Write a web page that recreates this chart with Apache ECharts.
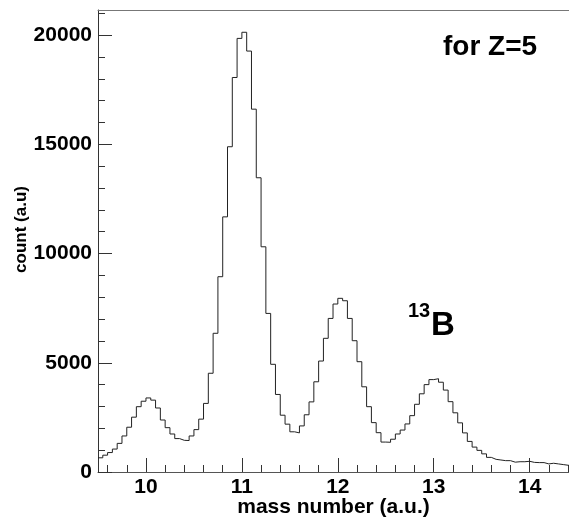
<!DOCTYPE html>
<html>
<head>
<meta charset="utf-8">
<script src="https://cdn.jsdelivr.net/npm/echarts@6/dist/echarts.min.js"></script>
<style>
html,body{margin:0;padding:0;background:#fff;overflow:hidden;}
#chart{width:569px;height:517px;}
</style>
</head>
<body>
<div id="chart"></div>
<script>
// Histogram binning (mass number, a.u.)
var binLow = 9.5;
var binWidth = 0.05;
// Counts per bin, bins starting at 9.50
var counts = [
  650, 770, 890, 1050, 1310, 1650, 2050, 2510, 2990, 3240,
  3390, 3290, 2930, 2380, 2030, 1740, 1530, 1450, 1440, 1650,
  1940, 2420, 3140, 4520, 6350, 8940, 11680, 14890, 18060, 19850,
  20130, 19270, 16610, 13470, 10310, 7260, 4930, 3550, 2600, 2190,
  1840, 1790, 2110, 2620, 3210, 4130, 5080, 6120, 7030, 7690,
  7950, 7840, 7030, 6010, 5050, 3900, 2990, 2260, 1800, 1370,
  1360, 1500, 1740, 1920, 2200, 2580, 3100, 3580, 4000, 4230,
  4270, 4110, 3750, 3220, 2710, 2250, 1790, 1400, 1140, 990,
  830, 670, 580, 550, 520, 520, 450, 470, 470, 490,
  440, 430, 430, 370, 400, 370, 340, 310, 280
];
// Axis ranges and tick values
var xMin = 9.5, xMax = 14.41;
var yMin = 0, yMax = 21150;
var xMajorTicks = [10, 11, 12, 13, 14];
var xMinorTicks = [9.6, 9.8, 10.2, 10.4, 10.6, 10.8, 11.2, 11.4, 11.6, 11.8,
                   12.2, 12.4, 12.6, 12.8, 13.2, 13.4, 13.6, 13.8, 14.2, 14.4];
var yMajorTicks = [0, 5000, 10000, 15000, 20000];
var yMinorTicks = [1000, 2000, 3000, 4000, 6000, 7000, 8000, 9000, 11000, 12000,
                   13000, 14000, 16000, 17000, 18000, 19000, 21000];
var xTitle = 'mass number (a.u.)';
var yTitle = 'count (a.u)';
var labelZ = 'for Z=5';

var edges = counts.map(function (c, i) { return +(binLow + i * binWidth).toFixed(4); });
var stepData = counts.map(function (c, i) { return [edges[i], c]; });
stepData.push([+(binLow + counts.length * binWidth).toFixed(4), counts[counts.length - 1]]);

var FONT = "'Liberation Sans', Arial, Helvetica, sans-serif";
var chart = echarts.init(document.getElementById('chart'), null, {renderer: 'canvas'});
var plain = function (v) { return String(v); };

chart.setOption({
  animation: false,
  backgroundColor: '#ffffff',
  grid: {left: 98, right: 0, top: 10, bottom: 45, containLabel: false, outerBoundsMode: 'none', show: false},
  xAxis: [
    {
      type: 'value', min: xMin, max: xMax, position: 'bottom',
      name: xTitle, nameLocation: 'middle', nameGap: 25, nameMoveOverlap: false,
      nameTextStyle: {fontFamily: FONT, fontWeight: 'bold', fontSize: 21, color: '#000'},
      axisLine: {show: true, lineStyle: {color: '#555', width: 1}},
      axisTick: {show: true, inside: true, length: 14, customValues: xMajorTicks, lineStyle: {color: '#333'}},
      axisLabel: {show: true, customValues: xMajorTicks, margin: 5, formatter: plain,
        fontFamily: FONT, fontWeight: 'bold', fontSize: 21, color: '#000'},
      splitLine: {show: false}
    },
    {
      type: 'value', min: xMin, max: xMax, position: 'bottom',
      axisLine: {show: false},
      axisTick: {show: true, inside: true, length: 7, customValues: xMinorTicks, lineStyle: {color: '#333'}},
      axisLabel: {show: false},
      splitLine: {show: false}
    },
    {
      type: 'value', min: xMin, max: xMax, position: 'top',
      axisLine: {show: true, lineStyle: {color: '#777', width: 1}},
      axisTick: {show: false}, axisLabel: {show: false}, splitLine: {show: false}
    }
  ],
  yAxis: [
    {
      type: 'value', min: yMin, max: yMax, position: 'left',
      axisLine: {show: true, lineStyle: {color: '#333', width: 1}},
      axisTick: {show: true, inside: true, length: 14, customValues: yMajorTicks, lineStyle: {color: '#333'}},
      axisLabel: {show: true, customValues: yMajorTicks, margin: 6, formatter: plain,
        fontFamily: FONT, fontWeight: 'bold', fontSize: 21, color: '#000'},
      splitLine: {show: false}
    },
    {
      type: 'value', min: yMin, max: yMax, position: 'left',
      axisLine: {show: false},
      axisTick: {show: true, inside: true, length: 7, customValues: yMinorTicks, lineStyle: {color: '#333'}},
      axisLabel: {show: false},
      splitLine: {show: false}
    }
  ],
  series: [{
    type: 'line',
    xAxisIndex: 0, yAxisIndex: 0,
    step: 'end',
    symbol: 'none',
    clip: true,
    data: stepData,
    lineStyle: {color: '#222', width: 1}
  }],
  graphic: [
    {type: 'text', left: 13, top: 186, rotation: Math.PI / 2,
      style: {text: yTitle, font: 'bold 17px ' + FONT, fill: '#000'}},
    {type: 'text', x: 443, y: 47,
      style: {text: labelZ, font: 'bold 28px ' + FONT, fill: '#000', textVerticalAlign: 'middle'}},
    {type: 'text', x: 408, y: 311,
      style: {text: '13', font: 'bold 20px ' + FONT, fill: '#000', textVerticalAlign: 'middle'}},
    {type: 'text', x: 431, y: 326,
      style: {text: 'B', font: 'bold 33px ' + FONT, fill: '#000', textVerticalAlign: 'middle'}}
  ]
});
</script>
</body>
</html>
